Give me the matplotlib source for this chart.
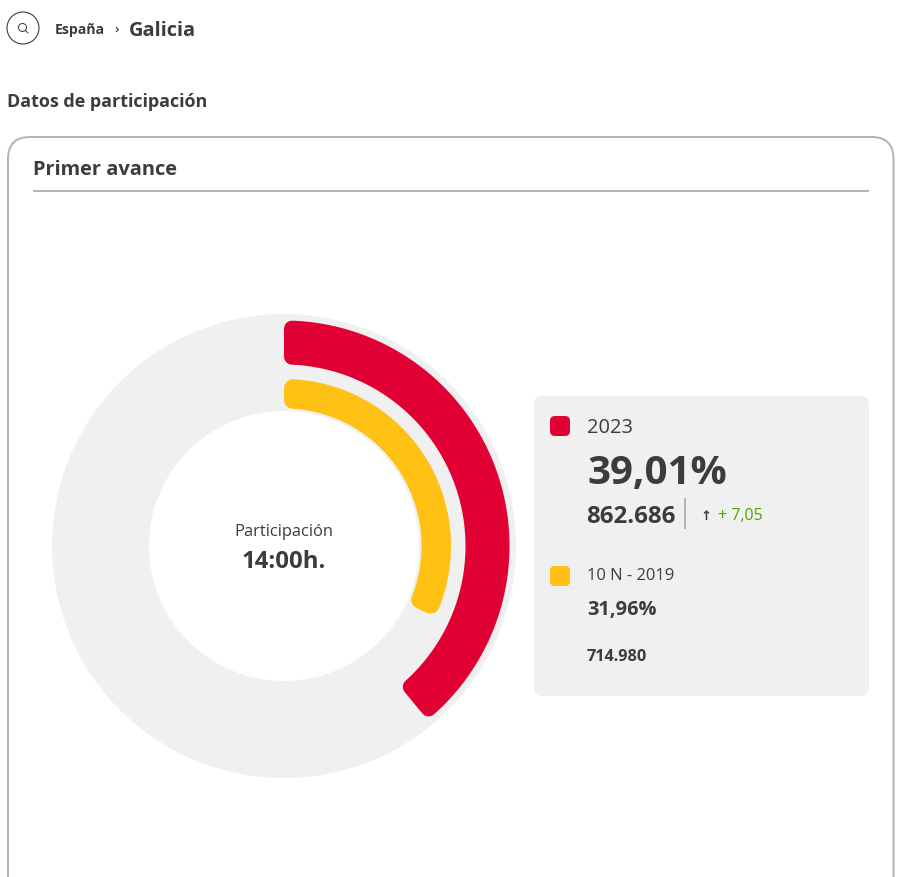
import matplotlib
matplotlib.use("Agg")
import matplotlib.pyplot as plt
import numpy as np
from matplotlib.patches import Wedge, Circle, FancyBboxPatch, Polygon
from matplotlib.lines import Line2D

plt.rcParams['font.family'] = ['Open Sans', 'DejaVu Sans']

# datos de participacion
series = ['2023', '10 N - 2019']
porcentajes = [39.01, 31.96]
votos = ['862.686', '714.980']
etiquetas_pct = ['39,01%', '31,96%']
colores = ['#e00034', '#ffc113']
diferencia = '+ 7,05'

GRIS = '#f0f0f0'
TEXTO = '#3c3c3c'
BORDE = '#b4b4b4'

fig = plt.figure(figsize=(9.12, 8.77), dpi=100)
ax = fig.add_axes([0, 0, 1, 1])
ax.set_xlim(0, 912)
ax.set_ylim(877, 0)  # coordenadas en pixeles, y hacia abajo
ax.axis('off')


def px(v):
    return v * 0.72


def arco(r, ang_ini, ang_fin, c):
    # arco con los extremos paralelos al radio, separados c pixeles
    delta = np.degrees(np.arcsin(c / r))
    t = np.radians(np.linspace(ang_ini + delta, ang_fin - delta, 120))
    return np.column_stack([r * np.cos(t), r * np.sin(t)])


# tarjeta
ax.add_patch(FancyBboxPatch((8, 137), 885.5, 800, boxstyle='round,pad=0,rounding_size=22',
                            fc='white', ec=BORDE, lw=px(2)))
ax.add_line(Line2D([33, 869], [190.5, 190.5], color=BORDE, lw=px(2), solid_capstyle='butt'))

# cabecera
ax.add_patch(Circle((23, 28), 16, fc='white', ec=TEXTO, lw=px(1.1)))
ax.add_patch(Circle((22.5, 27.5), 4, fc='none', ec=TEXTO, lw=px(1)))
ax.add_line(Line2D([25.5, 28], [30.5, 33], color=TEXTO, lw=px(1)))
ax.text(55, 34, 'España', fontsize=px(14), fontweight='bold', color=TEXTO)
ax.text(114, 33, '›', fontsize=px(13), fontweight='semibold', color=TEXTO)
ax.text(129, 36, 'Galicia', fontsize=px(20), fontweight='bold', color=TEXTO)
ax.text(7, 107, 'Datos de participación', fontsize=px(18), fontweight='bold', color=TEXTO)
ax.text(33, 175, 'Primer avance', fontsize=px(20), fontweight='bold', color=TEXTO)

# anillo de fondo
cx, cy = 284, 546
ax.add_patch(Wedge((cx, cy), 232, 0, 360, width=97, fc=GRIS, ec='none'))

# arcos: poligono mas fino con borde grueso para redondear las esquinas
radios = [(225.5, 44, 8), (167, 29.5, 9)]
for pct, color, (r, ancho, c) in zip(porcentajes, colores, radios):
    ini = -90
    fin = -90 + pct * 3.6
    externo = arco(r - c, ini, fin, c)
    interno = arco(r - ancho + c, ini, fin, c)
    puntos = np.vstack([externo, interno[::-1]]) + [cx, cy]
    ax.add_patch(Polygon(puntos, closed=True, fc=color, ec=color, lw=px(2 * c), joinstyle='round'))

ax.text(cx, 536, 'Participación', fontsize=px(16.5), color=TEXTO, ha='center')
ax.text(cx, 568, '14:00h.', fontsize=px(24), fontweight='bold', color=TEXTO, ha='center')

# caja de leyenda
ax.add_patch(FancyBboxPatch((534, 396), 335, 300, boxstyle='round,pad=0,rounding_size=8',
                            fc=GRIS, ec='none'))
for y, color in zip([416, 566], colores):
    ax.add_patch(FancyBboxPatch((550, y), 20, 20, boxstyle='round,pad=0,rounding_size=5',
                                fc=color, ec='none'))

ax.text(587, 433, series[0], fontsize=px(20), color=TEXTO)
ax.text(587, 484, etiquetas_pct[0], fontsize=px(40.2), fontweight='bold', color=TEXTO)
ax.text(586.5, 523, votos[0], fontsize=px(24), fontweight='bold', color=TEXTO)
ax.add_line(Line2D([685, 685], [498, 529], color=BORDE, lw=px(2), solid_capstyle='butt'))
ax.text(706, 520, '↑', fontsize=px(13), fontweight='bold', family='DejaVu Sans', color=TEXTO, ha='center')
ax.text(718, 520, diferencia, fontsize=px(16), color='#4fa600')

ax.text(587, 580, series[1], fontsize=px(16.5), color=TEXTO)
ax.text(587, 615, etiquetas_pct[1], fontsize=px(20), fontweight='bold', color=TEXTO)
ax.text(587, 661, votos[1], fontsize=px(16.3), fontweight='bold', color=TEXTO)

fig.savefig('out.png', dpi=100)
